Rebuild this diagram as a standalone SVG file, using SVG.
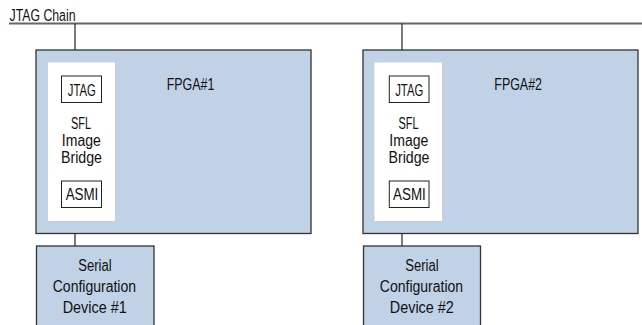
<svg xmlns="http://www.w3.org/2000/svg" width="642" height="325" viewBox="0 0 642 325">
<style>
text{font-family:"Liberation Sans",Arial,sans-serif;font-size:16px;fill:#111;}
.c{text-anchor:middle;}
.blue{fill:#c1d1e6;stroke:#333;stroke-width:1.3;}
.panel{fill:#fff;stroke:none;}
.box{fill:#fff;stroke:#222;stroke-width:1;}
.wire{stroke:#222;stroke-width:1.2;fill:none;}
.chain{stroke:#666;stroke-width:2;fill:none;}
</style>
<rect width="642" height="325" fill="#fff"/>
<text x="9.5" y="20.7" textLength="66" lengthAdjust="spacingAndGlyphs">JTAG Chain</text>
<g id="connectors">
<line class="chain" x1="9" y1="23.5" x2="642" y2="23.5"/>
<line class="wire" x1="75" y1="23.5" x2="75" y2="76"/>
<line class="wire" x1="75" y1="207" x2="75" y2="246"/>
<line class="wire" x1="402" y1="23.5" x2="402" y2="76"/>
<line class="wire" x1="402" y1="207" x2="402" y2="246"/>
</g>
<g id="fpga1">
<rect class="blue" x="36" y="50" width="275" height="183.5"/>
<rect class="panel" x="48" y="62.5" width="67" height="158.5"/>
<text x="166.7" y="90" textLength="47.7" lengthAdjust="spacingAndGlyphs">FPGA#1</text>
<text class="c" x="81" y="129" textLength="20" lengthAdjust="spacingAndGlyphs">SFL</text>
<text class="c" x="81.3" y="146" textLength="39" lengthAdjust="spacingAndGlyphs">Image</text>
<text class="c" x="81.5" y="163" textLength="41" lengthAdjust="spacingAndGlyphs">Bridge</text>
</g>
<g id="jtag1">
<rect class="box" x="61.5" y="76" width="40" height="26.5"/>
<text class="c" x="81.8" y="95.7" textLength="28" lengthAdjust="spacingAndGlyphs">JTAG</text>
</g>
<g id="asmi1">
<rect class="box" x="61.5" y="181" width="40" height="26.5"/>
<text class="c" x="82" y="200" textLength="32.7" lengthAdjust="spacingAndGlyphs">ASMI</text>
</g>
<g id="fpga2">
<rect class="blue" x="363" y="50" width="275" height="183.5"/>
<rect class="panel" x="374.5" y="62.5" width="67.5" height="158.5"/>
<text x="494.3" y="90" textLength="47.7" lengthAdjust="spacingAndGlyphs">FPGA#2</text>
<text class="c" x="408.5" y="129" textLength="20" lengthAdjust="spacingAndGlyphs">SFL</text>
<text class="c" x="408.8" y="146" textLength="39" lengthAdjust="spacingAndGlyphs">Image</text>
<text class="c" x="409" y="163" textLength="41" lengthAdjust="spacingAndGlyphs">Bridge</text>
</g>
<g id="jtag2">
<rect class="box" x="389.3" y="76" width="39.7" height="26.5"/>
<text class="c" x="409.2" y="95.7" textLength="28" lengthAdjust="spacingAndGlyphs">JTAG</text>
</g>
<g id="asmi2">
<rect class="box" x="389.3" y="181" width="39.7" height="26.5"/>
<text class="c" x="409.4" y="200" textLength="32.7" lengthAdjust="spacingAndGlyphs">ASMI</text>
</g>
<g id="serial1">
<rect class="blue" x="36.5" y="246" width="117.5" height="82"/>
<text class="c" x="95" y="271" textLength="33.3" lengthAdjust="spacingAndGlyphs">Serial</text>
<text class="c" x="94.4" y="292" textLength="83.3" lengthAdjust="spacingAndGlyphs">Configuration</text>
<text class="c" x="94.7" y="313.3" textLength="64" lengthAdjust="spacingAndGlyphs">Device #1</text>
</g>
<g id="serial2">
<rect class="blue" x="363.5" y="246" width="117" height="82"/>
<text class="c" x="422" y="271" textLength="33.3" lengthAdjust="spacingAndGlyphs">Serial</text>
<text class="c" x="421.5" y="292" textLength="83.3" lengthAdjust="spacingAndGlyphs">Configuration</text>
<text class="c" x="421.8" y="313.3" textLength="64" lengthAdjust="spacingAndGlyphs">Device #2</text>
</g>
</svg>
